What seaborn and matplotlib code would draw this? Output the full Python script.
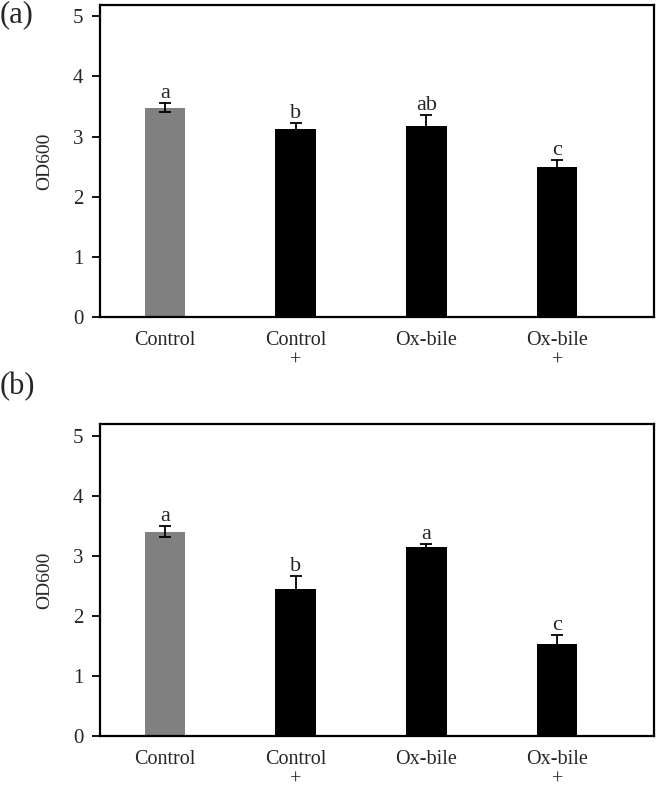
import numpy as np
import pandas as pd
import matplotlib
matplotlib.use('Agg')
import matplotlib.pyplot as plt
import seaborn as sns

# Data
groups = ['Control', 'Control\n+', 'Ox-bile', 'Ox-bile\n+']
bar_colors = ['#808080', '#000000', '#000000', '#000000']

od_a = [3.48, 3.12, 3.18, 2.50]
err_a = [0.08, 0.11, 0.18, 0.11]
letters_a = ['a', 'b', 'ab', 'c']

od_b = [3.40, 2.45, 3.15, 1.53]
err_b = [0.09, 0.21, 0.05, 0.15]
letters_b = ['a', 'b', 'a', 'c']

sns.set_style('white')
plt.rcParams['font.family'] = ['Liberation Serif', 'DejaVu Serif']

fig = plt.figure(figsize=(6.56, 7.89), dpi=100)
ax_a = fig.add_axes([0.1524, 0.5986, 0.8445, 0.3951])
ax_b = fig.add_axes([0.1524, 0.0676, 0.8445, 0.3946])


def draw_panel(ax, values, errors, letters, tag, tag_y):
    df = pd.DataFrame({'group': groups, 'od': values})
    sns.barplot(data=df, x='group', y='od', hue='group', palette=bar_colors,
                width=0.31, legend=False, ax=ax, saturation=1, edgecolor='none')
    x = np.arange(len(groups))
    ax.errorbar(x, values, yerr=errors, fmt='none', ecolor='black',
                elinewidth=1.3, capsize=4, capthick=1.3)
    for xi, v, e, lab in zip(x, values, errors, letters):
        ax.annotate(lab, (xi, v + e), xytext=(0, 0), textcoords='offset points',
                    ha='center', va='bottom', fontsize=16)
    ax.set_xlim(-0.497, 3.74)
    ax.set_ylim(0, 5.19)
    ax.set_yticks([0, 1, 2, 3, 4, 5])
    ax.set_xlabel('')
    ax.set_ylabel('OD600', fontsize=14, labelpad=14)
    ax.tick_params(axis='y', which='both', left=True, length=6, width=1.3,
                   direction='out', labelsize=15, pad=6, color='black')
    ax.tick_params(axis='x', length=0, labelsize=14.5, pad=10)
    for t in ax.get_xticklabels():
        t.set_linespacing(1.15)
    for s in ax.spines.values():
        s.set_visible(True)
        s.set_color('black')
        s.set_linewidth(1.6)
    fig.text(0.0, tag_y, tag, fontsize=22, ha='left', va='top')


draw_panel(ax_a, od_a, err_a, letters_a, '(a)', 1.0)
draw_panel(ax_b, od_b, err_b, letters_b, '(b)', 0.5285)

fig.savefig('out.png', dpi=100)
